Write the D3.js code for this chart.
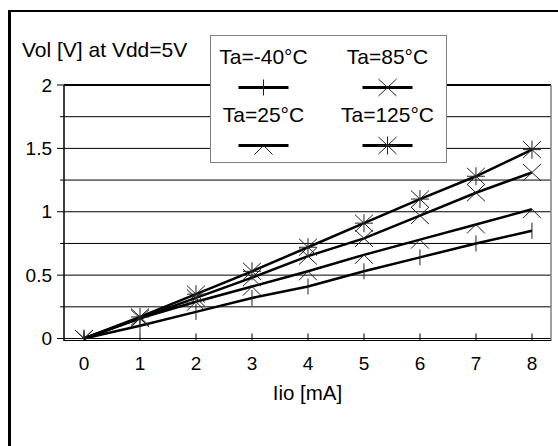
<html>
<head>
    <script src="https://d3js.org/d3.v7.min.js"></script>
    <style>
        body { margin: 0; background: #fff; }
        text { font-family: "Liberation Sans", Arial, sans-serif; fill: #000; }
        .grid { stroke: #000; stroke-width: 1px; }
        .series { fill: none; stroke: #000; stroke-width: 2.5px; }
        .marker { fill: none; stroke: #222; stroke-width: 1px; }
    </style>
</head>
<body>
<svg id="chart" width="558" height="446"></svg>
<script>
    // data
    const currents = [0, 1, 2, 3, 4, 5, 6, 7, 8];
    const volM40 = [0, 0.10, 0.21, 0.32, 0.41, 0.53, 0.64, 0.75, 0.85];
    const vol25 = [0, 0.16, 0.29, 0.41, 0.53, 0.66, 0.78, 0.90, 1.02];
    const vol85 = [0, 0.16, 0.32, 0.48, 0.65, 0.79, 0.97, 1.15, 1.31];
    const vol125 = [0, 0.17, 0.35, 0.53, 0.72, 0.91, 1.10, 1.28, 1.49];
    const seriesNames = ["Ta=-40°C", "Ta=25°C", "Ta=85°C", "Ta=125°C"];
    const seriesMarkers = ["plus", "caret", "cross", "star"];
    const yMajor = [0, 0.5, 1, 1.5, 2];
    const yMinor = [0.25, 0.75, 1.25, 1.75];

    const allSeries = [volM40, vol25, vol85, vol125];

    const svg = d3.select("svg#chart");
    const plot = { left: 64, right: 551, top: 85, bottom: 338.5 };

    const x = d3.scaleLinear().domain([-0.357, 8.34]).range([plot.left, plot.right]);
    const y = d3.scaleLinear().domain([0, 2]).range([plot.bottom, plot.top]);

    // marker shapes, relative to the point
    const markerPath = {
        plus: "M0,-8V8",
        caret: "M-9,9L0,0L9,9",
        cross: "M-9,-8.5L9,8.5M-9,8.5L9,-8.5",
        star: "M-9,-8.5L9,8.5M-9,8.5L9,-8.5M0,-9V9M-9,0H9"
    };

    // outer frame (only left and top show)
    svg.append("rect").attr("x", 8).attr("y", 10).attr("width", 3).attr("height", 436).attr("fill", "#000");
    svg.append("rect").attr("x", 8).attr("y", 10).attr("width", 550).attr("height", 2).attr("fill", "#000");

    // gridlines
    svg.selectAll("line.major").data(yMajor)
        .join("line")
        .attr("class", "grid")
        .attr("x1", plot.left - 7).attr("x2", plot.right)
        .attr("y1", d => y(d)).attr("y2", d => y(d));
    svg.selectAll("line.minor").data(yMinor)
        .join("line")
        .attr("class", "grid")
        .attr("x1", plot.left - 4).attr("x2", plot.right)
        .attr("y1", d => y(d)).attr("y2", d => y(d));

    // plot frame
    svg.append("line").attr("x1", plot.left).attr("x2", plot.right)
        .attr("y1", y(2)).attr("y2", y(2)).attr("stroke", "#000").attr("stroke-width", 2);
    svg.append("line").attr("x1", plot.right).attr("x2", plot.right)
        .attr("y1", plot.top).attr("y2", plot.bottom + 2.5).attr("stroke", "#808080").attr("stroke-width", 1.5);
    svg.append("line").attr("x1", plot.left).attr("x2", plot.left)
        .attr("y1", plot.top).attr("y2", plot.bottom + 2.5).attr("stroke", "#000").attr("stroke-width", 1.5);
    svg.append("line").attr("x1", plot.left).attr("x2", plot.right)
        .attr("y1", plot.bottom + 2).attr("y2", plot.bottom + 2).attr("stroke", "#000").attr("stroke-width", 1);

    // x ticks
    svg.selectAll("line.xtick").data(currents)
        .join("line")
        .attr("stroke", "#000")
        .attr("x1", d => x(d)).attr("x2", d => x(d))
        .attr("y1", plot.bottom - 5).attr("y2", plot.bottom + 2);

    svg.selectAll("text.xlab").data(currents)
        .join("text")
        .attr("x", d => x(d)).attr("y", 370)
        .attr("text-anchor", "middle")
        .style("font-size", "19px")
        .text(d => d);

    svg.selectAll("text.ylab").data(yMajor)
        .join("text")
        .attr("x", 52).attr("y", d => y(d))
        .attr("dy", "0.35em")
        .attr("text-anchor", "end")
        .style("font-size", "19px")
        .text(d => d);

    svg.append("text").attr("x", 22).attr("y", 57)
        .style("font-size", "21px")
        .text("Vol [V] at Vdd=5V");

    svg.append("text").attr("x", (plot.left + plot.right) / 2).attr("y", 400)
        .attr("text-anchor", "middle")
        .style("font-size", "20.5px")
        .text("Iio [mA]");

    // series
    svg.append("clipPath").attr("id", "plotclip")
        .append("rect")
        .attr("x", plot.left).attr("y", plot.top)
        .attr("width", plot.right - plot.left).attr("height", plot.bottom - plot.top);

    const line = d3.line().x((d, i) => x(currents[i])).y(d => y(d));

    svg.selectAll("path.series").data(allSeries)
        .join("path")
        .attr("class", "series")
        .attr("d", line);

    const markers = svg.append("g").attr("clip-path", "url(#plotclip)");
    allSeries.forEach((vals, s) => {
        markers.selectAll("path.m" + s).data(vals)
            .join("path")
            .attr("class", "marker m" + s)
            .attr("transform", (d, i) => "translate(" + x(currents[i]) + "," + y(d) + ")")
            .attr("d", markerPath[seriesMarkers[s]]);
    });

    // legend: -40 / 25 left column, 85 / 125 right column
    const legend = svg.append("g").attr("transform", "translate(210.5,35.5)");
    legend.append("rect").attr("width", 236).attr("height", 127)
        .attr("fill", "#fff").attr("stroke", "#808080");

    const legendItems = legend.selectAll("g.item").data(seriesNames)
        .join("g")
        .attr("transform", (d, i) => "translate(" + (i < 2 ? 53 : 177) + "," + (i % 2 === 0 ? 0 : 58) + ")");
    legendItems.append("text")
        .attr("y", 28.5)
        .attr("text-anchor", "middle")
        .style("font-size", "21px")
        .text(d => d);
    legendItems.append("line")
        .attr("x1", -25).attr("x2", 25)
        .attr("y1", 52).attr("y2", 52)
        .attr("stroke", "#000").attr("stroke-width", 3);
    legendItems.append("path")
        .attr("class", "marker")
        .attr("transform", "translate(0,52)")
        .attr("d", (d, i) => markerPath[seriesMarkers[i]]);
</script>
</body>
</html>
